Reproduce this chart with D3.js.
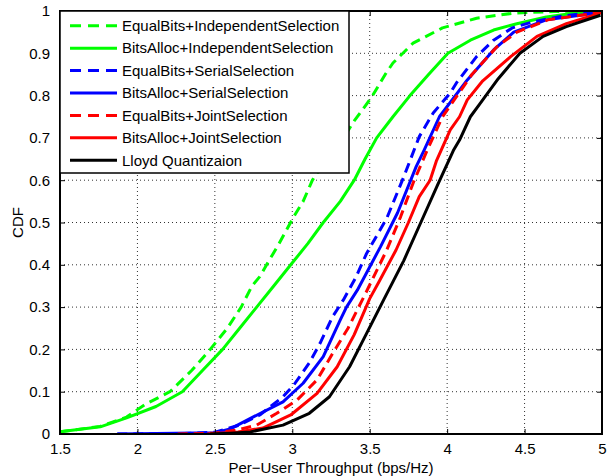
<!DOCTYPE html>
<html>
<head>
<meta charset="utf-8">
<script src="https://cdn.jsdelivr.net/npm/d3@7"></script>
<style>
  html, body { margin: 0; padding: 0; background: #fff; }
  svg { display: block; }
  text { font-family: "Liberation Sans", Arial, Helvetica, sans-serif; fill: #000; }
</style>
</head>
<body>
<svg id="chart" width="616" height="476"></svg>
<script>
// Tick values on both axes
const xTicks = [1.5, 2, 2.5, 3, 3.5, 4, 4.5, 5];
const yTicks = [0, 0.1, 0.2, 0.3, 0.4, 0.5, 0.6, 0.7, 0.8, 0.9, 1];
const xTickLabels = ["1.5", "2", "2.5", "3", "3.5", "4", "4.5", "5"];
const yTickLabels = ["0", "0.1", "0.2", "0.3", "0.4", "0.5", "0.6", "0.7", "0.8", "0.9", "1"];

// Empirical CDF samples, [throughput, probability]
const equalBitsIndep = [[1.5,0.005],[1.76,0.018],[1.93,0.04],[2.05,0.07],[2.21,0.1],[2.35,0.15],[2.47,0.2],[2.58,0.25],[2.67,0.3],[2.74,0.35],[2.79,0.372],[2.85,0.41],[2.91,0.447],[3.01,0.514],[3.07,0.55],[3.13,0.6],[3.22,0.65],[3.33,0.7],[3.40,0.74],[3.51,0.795],[3.60,0.85],[3.65,0.877],[3.78,0.924],[3.97,0.96],[4.19,0.983],[4.43,0.995],[4.7,0.999],[5,1]];
const bitsAllocIndep = [[1.5,0.005],[1.76,0.017],[1.93,0.038],[2.12,0.065],[2.29,0.1],[2.42,0.15],[2.55,0.2],[2.66,0.25],[2.77,0.3],[2.88,0.35],[2.99,0.4],[3.10,0.45],[3.20,0.5],[3.31,0.55],[3.40,0.6],[3.47,0.65],[3.545,0.7],[3.65,0.75],[3.76,0.8],[3.88,0.85],[4.005,0.9],[4.15,0.931],[4.30,0.955],[4.45,0.97],[4.64,0.986],[4.84,0.996],[5,1]];
const equalBitsSerial = [[1.87,0],[2.3,0.001],[2.5,0.004],[2.65,0.02],[2.79,0.045],[2.94,0.088],[3.01,0.116],[3.11,0.168],[3.18,0.215],[3.26,0.277],[3.33,0.317],[3.41,0.37],[3.48,0.427],[3.61,0.51],[3.72,0.608],[3.82,0.703],[3.91,0.759],[4.02,0.806],[4.06,0.83],[4.19,0.892],[4.30,0.931],[4.42,0.96],[4.56,0.975],[4.73,0.987],[4.94,0.997],[5,1]];
const bitsAllocSerial = [[1.87,0],[2.5,0.003],[2.6,0.012],[2.73,0.037],[2.94,0.076],[3.07,0.12],[3.20,0.183],[3.31,0.27],[3.35,0.3],[3.42,0.34],[3.57,0.443],[3.68,0.523],[3.80,0.632],[3.85,0.67],[3.95,0.75],[4.13,0.837],[4.30,0.908],[4.43,0.95],[4.64,0.979],[4.98,0.996],[5,1]];
const equalBitsJoint = [[2.26,0],[2.5,0.002],[2.65,0.01],[2.77,0.021],[2.90,0.049],[3.03,0.08],[3.16,0.128],[3.26,0.19],[3.36,0.25],[3.47,0.33],[3.61,0.435],[3.70,0.514],[3.78,0.593],[3.87,0.67],[3.97,0.75],[4.16,0.85],[4.32,0.915],[4.45,0.95],[4.65,0.979],[4.98,0.996],[5,1]];
const bitsAllocJoint = [[2.45,0],[2.65,0.005],[2.81,0.014],[2.99,0.045],[3.16,0.096],[3.29,0.159],[3.40,0.235],[3.50,0.32],[3.56,0.36],[3.67,0.435],[3.75,0.50],[3.82,0.561],[3.89,0.6],[3.93,0.645],[4.02,0.719],[4.08,0.75],[4.13,0.79],[4.23,0.835],[4.41,0.892],[4.58,0.94],[4.77,0.97],[4.99,0.995],[5,1]];
const lloyd = [[2.47,0],[2.6,0.002],[2.73,0.005],[2.94,0.021],[3.11,0.049],[3.24,0.088],[3.37,0.159],[3.48,0.238],[3.59,0.317],[3.72,0.41],[3.83,0.5],[3.94,0.59],[4.04,0.67],[4.08,0.695],[4.15,0.75],[4.21,0.78],[4.33,0.84],[4.47,0.9],[4.62,0.94],[4.77,0.963],[4.99,0.99]];

const seriesNames = ["EqualBits+IndependentSelection", "BitsAlloc+IndependentSelection",
  "EqualBits+SerialSelection", "BitsAlloc+SerialSelection",
  "EqualBits+JointSelection", "BitsAlloc+JointSelection", "Lloyd Quantizaion"];
const seriesData = [equalBitsIndep, bitsAllocIndep, equalBitsSerial, bitsAllocSerial,
  equalBitsJoint, bitsAllocJoint, lloyd];
const seriesColors = ["#00ff00", "#00ff00", "#0000ff", "#0000ff", "#ff0000", "#ff0000", "#000000"];
const seriesDashed = [true, false, true, false, true, false, false];

const svg = d3.select("#chart");
const plot = { left: 60, right: 602, top: 11, bottom: 434 };

const x = d3.scaleLinear().domain([1.5, 5]).range([plot.left, plot.right]);
const y = d3.scaleLinear().domain([0, 1]).range([plot.bottom, plot.top]);

svg.append("defs").append("clipPath").attr("id", "plot-clip")
  .append("rect")
  .attr("x", plot.left).attr("y", plot.top)
  .attr("width", plot.right - plot.left).attr("height", plot.bottom - plot.top);

// Dotted grid
const grid = svg.append("g").attr("class", "grid");
grid.selectAll("line.gx").data(xTicks.slice(1, -1)).join("line")
  .attr("x1", d => x(d)).attr("x2", d => x(d))
  .attr("y1", plot.top).attr("y2", plot.bottom)
  .attr("stroke", "#333").attr("stroke-width", 1).attr("stroke-dasharray", "1,3");
grid.selectAll("line.gy").data(yTicks.slice(1, -1)).join("line")
  .attr("y1", d => y(d)).attr("y2", d => y(d))
  .attr("x1", plot.left).attr("x2", plot.right)
  .attr("stroke", "#333").attr("stroke-width", 1).attr("stroke-dasharray", "1,3");

// CDF curves
const line = d3.line().x(d => x(d[0])).y(d => y(d[1]));
const curves = svg.append("g").attr("clip-path", "url(#plot-clip)");
seriesData.forEach((data, i) => {
  curves.append("path")
    .attr("d", line(data))
    .attr("fill", "none")
    .attr("stroke", seriesColors[i])
    .attr("stroke-width", 3)
    .attr("stroke-linejoin", "round")
    .attr("stroke-dasharray", seriesDashed[i] ? "10,6" : null);
});

// Axes with inward ticks on all four sides
const tickLen = 5;
svg.append("g").attr("transform", `translate(0,${plot.bottom})`)
  .call(d3.axisBottom(x).tickValues(xTicks).tickFormat((d, i) => xTickLabels[i])
    .tickSizeInner(-tickLen).tickSizeOuter(0).tickPadding(9))
  .call(g => g.select(".domain").remove());
svg.append("g").attr("transform", `translate(0,${plot.top})`)
  .call(d3.axisTop(x).tickValues(xTicks).tickFormat("")
    .tickSizeInner(-tickLen).tickSizeOuter(0))
  .call(g => g.select(".domain").remove());
svg.append("g").attr("transform", `translate(${plot.left},0)`)
  .call(d3.axisLeft(y).tickValues(yTicks).tickFormat((d, i) => yTickLabels[i])
    .tickSizeInner(-tickLen).tickSizeOuter(0).tickPadding(10))
  .call(g => g.select(".domain").remove());
svg.append("g").attr("transform", `translate(${plot.right},0)`)
  .call(d3.axisRight(y).tickValues(yTicks).tickFormat("")
    .tickSizeInner(-tickLen).tickSizeOuter(0))
  .call(g => g.select(".domain").remove());

svg.selectAll(".tick line").attr("stroke", "#000").attr("stroke-width", 1);
svg.selectAll(".tick text").attr("font-size", 15)
  .attr("font-family", "'Liberation Sans', Arial, Helvetica, sans-serif").attr("fill", "#000");

// Plot frame
svg.append("rect")
  .attr("x", plot.left).attr("y", plot.top)
  .attr("width", plot.right - plot.left).attr("height", plot.bottom - plot.top)
  .attr("fill", "none").attr("stroke", "#000").attr("stroke-width", 2);

// Axis titles
svg.append("text")
  .attr("x", (plot.left + plot.right) / 2).attr("y", 473)
  .attr("text-anchor", "middle").attr("font-size", 15)
  .text("Per\u2212User Throughput (bps/Hz)");
svg.append("text")
  .attr("transform", `translate(23,${(plot.top + plot.bottom) / 2}) rotate(-90)`)
  .attr("text-anchor", "middle").attr("font-size", 15)
  .text("CDF");

// Legend
const legend = svg.append("g");
const legendBox = { x: plot.left, y: plot.top, w: 289, h: 162 };
legend.append("rect")
  .attr("x", legendBox.x).attr("y", legendBox.y)
  .attr("width", legendBox.w).attr("height", legendBox.h)
  .attr("fill", "#fff").attr("stroke", "#000").attr("stroke-width", 1.5);
const rowY = d3.scaleLinear().domain([0, seriesNames.length - 1]).range([25.7, 160.3]);
seriesNames.forEach((name, i) => {
  const yy = rowY(i);
  legend.append("line")
    .attr("x1", 70).attr("x2", 117).attr("y1", yy).attr("y2", yy)
    .attr("stroke", seriesColors[i]).attr("stroke-width", 3)
    .attr("stroke-dasharray", seriesDashed[i] ? "11,7" : null);
  legend.append("text")
    .attr("x", 122).attr("y", yy).attr("dy", "0.35em")
    .attr("font-size", 15)
    .text(name);
});
</script>
</body>
</html>
